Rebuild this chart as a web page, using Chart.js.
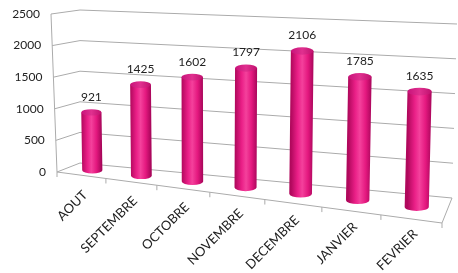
<!DOCTYPE html>
<html>
<head>
<meta charset="utf-8">
<script src="https://cdn.jsdelivr.net/npm/chart.js@4/dist/chart.umd.min.js"></script>
<style>
  html, body { margin: 0; padding: 0; background: #fff; }
  canvas { display: block; }
</style>
</head>
<body>
<canvas id="chart" width="458" height="273"></canvas>
<script>
const months = ['AOUT', 'SEPTEMBRE', 'OCTOBRE', 'NOVEMBRE', 'DECEMBRE', 'JANVIER', 'FEVRIER'];
const totals = [921, 1425, 1602, 1797, 2106, 1785, 1635];
const yMax = 2500;
const yStep = 500;

// corners of the 3D box on screen: F/B = front/back, L/R = left/right, B/T = bottom/top
const FLB = [57, 172], BLB = [80, 163], FLT = [51, 14], BLT = [80, 10];
const FRB = [442, 223], BRB = [452, 198], FRT = [447, 40], BRT = [457, 24];
const FONT = 'Lato, "Open Sans", sans-serif';

const lerp = (a, b, t) => [a[0] + (b[0] - a[0]) * t, a[1] + (b[1] - a[1]) * t];
const spread = u => u + 0.129 * (u * u - u); // perspective spread to the right
// u: along categories, v: value fraction, w: depth (0 front, 1 back)
const proj = (u, v, w) => {
    u = spread(u);
    const b = lerp(lerp(FLB, BLB, w), lerp(FRB, BRB, w), u);
    const t = lerp(lerp(FLT, BLT, w), lerp(FRT, BRT, w), u);
    return lerp(b, t, v);
};

const line = (ctx, pts) => {
    ctx.beginPath();
    pts.forEach((p, i) => i ? ctx.lineTo(p[0], p[1]) : ctx.moveTo(p[0], p[1]));
    ctx.stroke();
};

const cylinder = (ctx, bot, top, rx) => {
    const ry = rx * 0.32;
    const g = ctx.createLinearGradient(top[0] - rx, 0, top[0] + rx, 0);
    g.addColorStop(0, '#b0085c');
    g.addColorStop(0.3, '#ea1f87');
    g.addColorStop(0.5, '#f4419c');
    g.addColorStop(0.75, '#e4187f');
    g.addColorStop(1, '#a8065a');
    ctx.beginPath();
    ctx.moveTo(top[0] - rx, top[1]);
    ctx.lineTo(bot[0] - rx, bot[1]);
    ctx.ellipse(bot[0], bot[1], rx, ry, 0, Math.PI, 0, true);
    ctx.lineTo(top[0] + rx, top[1]);
    ctx.closePath();
    ctx.fillStyle = g;
    ctx.fill();
    const gt = ctx.createLinearGradient(top[0] - rx, 0, top[0] + rx, 0);
    gt.addColorStop(0, '#c8127a');
    gt.addColorStop(0.5, '#e0308f');
    gt.addColorStop(1, '#c0106e');
    ctx.beginPath();
    ctx.ellipse(top[0], top[1], rx, ry, 0, 0, Math.PI * 2);
    ctx.fillStyle = gt;
    ctx.fill();
    return ry;
};

const box3d = {
    id: 'box3d',
    beforeDatasetsDraw(chart) {
        const { ctx, chartArea: ca, scales: { x, y } } = chart;
        const uOf = px => (px - ca.left) / ca.width;
        const vOf = val => (ca.bottom - y.getPixelForValue(val)) / ca.height;
        ctx.save();

        // walls and gridlines
        ctx.strokeStyle = '#ababab';
        ctx.lineWidth = 1;
        ctx.font = '12px ' + FONT;
        ctx.fillStyle = '#222';
        ctx.textAlign = 'right';
        ctx.textBaseline = 'middle';
        y.ticks.forEach(t => {
            const v = vOf(t.value);
            line(ctx, [proj(0, v, 0), proj(0, v, 1), proj(1, v, 1)]);
            const p = proj(0, v, 0);
            ctx.fillText(String(t.value), p[0] - 11, p[1]);
        });
        line(ctx, [proj(0, 1, 0), proj(0, 0, 0), proj(1, 0, 0), proj(1, 0, 1)]);
        for (let k = 0; k <= months.length; k++) {
            const p = proj(uOf(x.getPixelForValue(k - 0.5)), 0, 0);
            line(ctx, [p, [p[0], p[1] + 5]]);
        }

        // cylinders + value labels
        const meta = chart.getDatasetMeta(0);
        meta.data.forEach((bar, i) => {
            const u = uOf(bar.x);
            const bot = proj(u, 0, 0.5);
            const top = proj(u, vOf(totals[i]), 0.5);
            const full = proj(u, 1, 0.5);
            const h = bot[1] - full[1];
            const rx = 0.064 * h * Math.sqrt(h / 155);
            const ry = cylinder(ctx, bot, top, rx);
            ctx.fillStyle = '#222';
            ctx.textAlign = 'center';
            ctx.textBaseline = 'bottom';
            ctx.font = '12px ' + FONT;
            ctx.fillText(String(totals[i]), top[0], top[1] - ry - 6);
        });

        // category labels along the slanted floor edge
        ctx.font = '13px ' + FONT;
        ctx.textAlign = 'right';
        ctx.textBaseline = 'middle';
        months.forEach((m, i) => {
            const u = uOf(x.getPixelForValue(i));
            const p = proj(u, 0, 0);
            ctx.save();
            ctx.translate(p[0] + 4, p[1] + 18 - 5.5 * spread(u));
            ctx.rotate(-Math.PI / 4);
            ctx.fillText(m, 0, 0);
            ctx.restore();
        });

        ctx.restore();
        return false;
    }
};

new Chart(document.getElementById('chart'), {
    type: 'bar',
    data: { labels: months, datasets: [{ data: totals, backgroundColor: '#e91e8c' }] },
    options: {
        responsive: false, animation: false,
        layout: { padding: 0 },
        plugins: { legend: { display: false }, tooltip: { enabled: false } },
        scales: {
            x: { ticks: { display: false }, grid: { display: false }, border: { display: false } },
            y: { min: 0, max: yMax, ticks: { display: false, stepSize: yStep }, grid: { display: false }, border: { display: false } }
        }
    },
    plugins: [box3d]
});
</script>
</body>
</html>
